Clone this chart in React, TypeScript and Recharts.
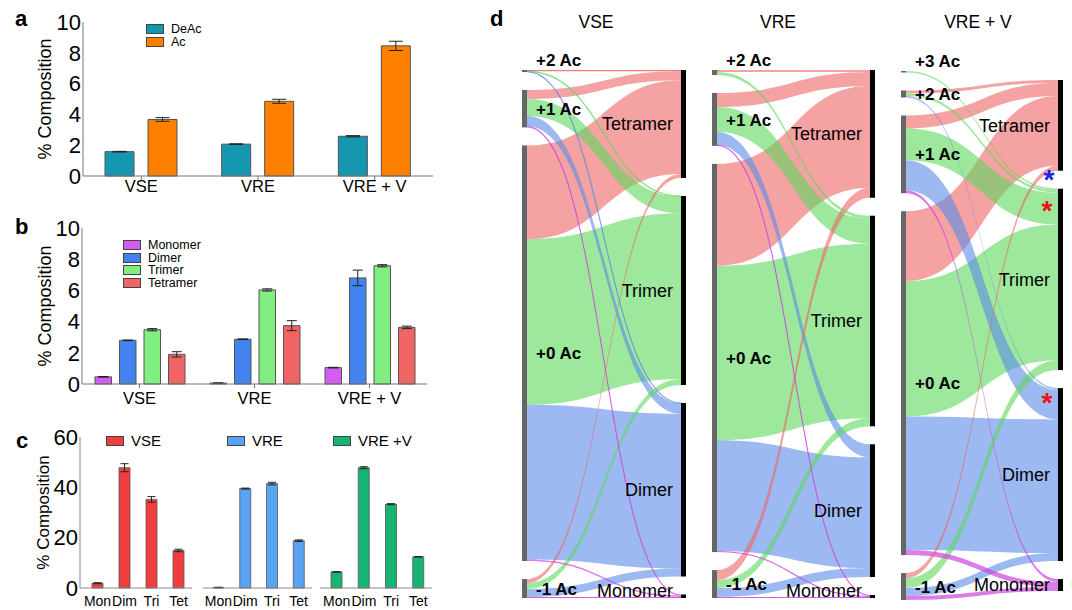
import React from 'react';
import { BarChart, Bar, XAxis, YAxis, ErrorBar, Legend, Label, Sankey } from 'recharts';

const FONT = '"Liberation Sans", Arial, Helvetica, sans-serif';

// panel a: acetylated vs deacetylated
const groups = ['VSE', 'VRE', 'VRE + V'];
const compTicks = [0, 2, 4, 6, 8, 10];
const acSeries = ['DeAc', 'Ac'];
const deacValues = [1.58, 2.07, 2.58];
const deacErrors = [0.02, 0.02, 0.04];
const acValues = [3.67, 4.85, 8.45];
const acErrors = [0.12, 0.13, 0.3];

// panel b: acetylated share by oligomer
const oligoSeries = ['Monomer', 'Dimer', 'Trimer', 'Tetramer'];
const monomerValues = [0.46, 0.06, 1.05];
const monomerErrors = [0.02, 0.01, 0.02];
const dimerValues = [2.8, 2.87, 6.8];
const dimerErrors = [0.02, 0.02, 0.5];
const trimerValues = [3.48, 6.03, 7.58];
const trimerErrors = [0.07, 0.07, 0.07];
const tetramerValues = [1.9, 3.74, 3.63];
const tetramerErrors = [0.17, 0.32, 0.08];

// panel c: oligomer composition
const oligoTicks = ['Mon', 'Dim', 'Tri', 'Tet'];
const shareTicks = [0, 20, 40, 60];
const vseShares = [1.9, 47.8, 35.2, 14.9];
const vseShareErrors = [0.2, 1.6, 1.1, 0.5];
const vreShares = [0.2, 39.5, 41.5, 18.8];
const vreShareErrors = [0.1, 0.2, 0.5, 0.3];
const vrevShares = [6.4, 47.8, 33.3, 12.4];
const vrevShareErrors = [0.1, 0.4, 0.2, 0.1];

// panel d: acetylation state -> oligomer flows
const acStates = ['+2 Ac', '+1 Ac', '+0 Ac', '-1 Ac'];
const acStatesV = ['+3 Ac', '+2 Ac', '+1 Ac', '+0 Ac', '-1 Ac'];
const oligomers = ['Tetramer', 'Trimer', 'Dimer', 'Monomer'];
// rows follow the Ac states, columns follow oligomers
const vseFlows = [
  [1.2, 0.4, 0.4, 0],
  [9, 17, 10.5, 1],
  [94, 166, 155, 1.5],
  [4, 6, 8, 1],
];
const vreFlows = [
  [2, 3, 0, 0],
  [14, 25, 13, 1],
  [102, 175, 111, 1],
  [10, 8, 9, 1],
];
const vrevFlows = [
  [0, 1.5, 0, 0],
  [3, 2.5, 1.5, 0],
  [13, 32, 30, 3],
  [70, 136, 134, 5],
  [5, 10, 8, 4],
];

const linkColors = ['#ee6464', '#5cd95c', '#5a8ae8', '#cc44dd'];

const sum = (a: number[]) => a.reduce((s, v) => s + v, 0);

// legend drawn from recharts' payload, kept in series order
const LegendList = ({ payload, order = [], fontSize = 12.5, row = 12.6 }: any) => {
  const items = [...(payload || [])].sort((a: any, b: any) => order.indexOf(a.value) - order.indexOf(b.value));
  return (
    <div>
      {items.map((p: any) => (
        <div key={p.value} style={{ display: 'flex', alignItems: 'center', height: row }}>
          <span style={{ display: 'block', width: 16, height: 8, background: p.payload?.fill ?? p.color, border: '1px solid #444' }} />
          <span style={{ display: 'block', marginLeft: 7, height: row, fontSize, lineHeight: `${row}px`, color: '#000', whiteSpace: 'nowrap' }}>{p.value}</span>
        </div>
      ))}
    </div>
  );
};

const yTick = { fill: '#000', fontSize: 22 };
const xTick = { fill: '#000', fontSize: 16.5 };
const yLabelStyle = { textAnchor: 'middle', fontSize: 18, fill: '#000' } as any;

function PanelA() {
  const data = groups.map((group, i) => ({ group, deac: deacValues[i], deacErr: deacErrors[i], ac: acValues[i], acErr: acErrors[i] }));
  return (
    <div style={{ position: 'absolute', left: 0, top: 0 }}>
      <BarChart width={440} height={200} data={data} margin={{ top: 22, right: 7, bottom: 0, left: 0 }} barSize={29} barGap={14}>
        <XAxis dataKey="group" height={24} interval={0} tickSize={4} tickMargin={0} stroke="#777" tick={xTick} />
        <YAxis width={83} domain={[0, 10]} ticks={compTicks} interval={0} tickLine={false} tickSize={0} tickMargin={2} stroke="#777" tick={yTick}>
          <Label value="% Composition" angle={-90} position="insideLeft" offset={45} style={yLabelStyle} />
        </YAxis>
        <Legend layout="vertical" align="center" verticalAlign="middle" wrapperStyle={{ left: 146, top: 23, width: 'auto', height: 'auto' }} content={<LegendList order={acSeries} />} />
        <Bar dataKey="deac" name={acSeries[0]} fill="#1597b0" stroke="#555" strokeWidth={1} isAnimationActive={false}>
          <ErrorBar dataKey="deacErr" width={7} stroke="#222" strokeWidth={1} />
        </Bar>
        <Bar dataKey="ac" name={acSeries[1]} fill="#ff8000" stroke="#555" strokeWidth={1} isAnimationActive={false}>
          <ErrorBar dataKey="acErr" width={7} stroke="#222" strokeWidth={1} />
        </Bar>
      </BarChart>
    </div>
  );
}

function PanelB() {
  const data = groups.map((group, i) => ({
    group,
    mon: monomerValues[i], monErr: monomerErrors[i],
    dim: dimerValues[i], dimErr: dimerErrors[i],
    tri: trimerValues[i], triErr: trimerErrors[i],
    tet: tetramerValues[i], tetErr: tetramerErrors[i],
  }));
  const keys = ['mon', 'dim', 'tri', 'tet'];
  const fills = ['#d45cf0', '#4283f0', '#80ee80', '#f06464'];
  return (
    <div style={{ position: 'absolute', left: 0, top: 200 }}>
      <BarChart width={432} height={208} data={data} margin={{ top: 28, right: 5, bottom: 0, left: 0 }} barSize={16.5} barGap={8}>
        <XAxis dataKey="group" height={24} interval={0} tickSize={4} tickMargin={4} stroke="#777" tick={xTick} />
        <YAxis width={82} domain={[0, 10]} ticks={compTicks} interval={0} tickLine={false} tickSize={0} tickMargin={2} stroke="#777" tick={yTick}>
          <Label value="% Composition" angle={-90} position="insideLeft" offset={45} style={yLabelStyle} />
        </YAxis>
        <Legend layout="vertical" align="center" verticalAlign="middle" wrapperStyle={{ left: 123, top: 39, width: 'auto', height: 'auto' }} content={<LegendList order={oligoSeries} />} />
        {keys.map((k, i) => (
          <Bar key={k} dataKey={k} name={oligoSeries[i]} fill={fills[i]} stroke="#555" strokeWidth={1} isAnimationActive={false}>
            <ErrorBar dataKey={`${k}Err`} width={5} stroke="#222" strokeWidth={1} />
          </Bar>
        ))}
      </BarChart>
    </div>
  );
}

function SharePanel({ name, values, errors, color, left, width, withAxis, padLeft, legendLeft }: any) {
  const data = oligoTicks.map((t, i) => ({ t, v: values[i], e: errors[i] }));
  return (
    <div style={{ position: 'absolute', left, top: 410 }}>
      <BarChart width={width} height={200} data={data} margin={{ top: 27, right: 0, bottom: 0, left: 0 }} barSize={11}>
        <XAxis dataKey="t" height={22} interval={0} tickLine={false} stroke="#888" tick={{ fill: '#000', fontSize: 14 }} padding={{ left: padLeft, right: 0 }} />
        {withAxis ? (
          <YAxis width={80} domain={[0, 60]} ticks={shareTicks} interval={0} tickLine={false} tickSize={0} tickMargin={2} stroke="#888" tick={yTick}>
            <Label value="% Composition" angle={-90} position="insideLeft" offset={43} style={{ ...yLabelStyle, fontSize: 17 }} />
          </YAxis>
        ) : (
          <YAxis hide domain={[0, 60]} ticks={shareTicks} />
        )}
        <Legend layout="vertical" align="center" verticalAlign="middle" wrapperStyle={{ left: legendLeft, top: 24, width: 'auto', height: 'auto' }} content={<LegendList fontSize={15} row={14} />} />
        <Bar dataKey="v" name={name} fill={color} stroke="#555" strokeWidth={0.8} isAnimationActive={false}>
          <ErrorBar dataKey="e" width={4} stroke="#222" strokeWidth={1} />
        </Bar>
      </BarChart>
    </div>
  );
}

function AcSankey({ sources, flows, left, top, width, height, stars }: any) {
  const pad = 18;
  const mTop = 30;
  const mBottom = 14;
  const nodes = [...sources, ...oligomers].map((name: string) => ({ name }));
  const links: any[] = [];
  flows.forEach((row: number[], i: number) =>
    row.forEach((value, j) => {
      if (value > 0) links.push({ source: i, target: sources.length + j, value, oligo: j });
    })
  );
  // thin flows drawn last so they stay visible on top of the wide bands
  links.sort((a, b) => b.value - a.value);
  const total = sum(flows.map((r: number[]) => sum(r)));
  const targetCount = oligomers.filter((_, j) => flows.some((r: number[]) => r[j] > 0)).length;
  const ky = Math.min((height - (sources.length - 1) * pad) / total, (height - (targetCount - 1) * pad) / total);
  // recharts stacks the shorter column from the top; centre it instead
  const offS = (height - total * ky - (sources.length - 1) * pad) / 2;
  const offT = (height - total * ky - (targetCount - 1) * pad) / 2;

  const renderLink = (p: any) => {
    const sy = p.sourceY + offS;
    const ty = p.targetY + offT;
    const idx = p.payload?.oligo ?? oligomers.indexOf(p.payload?.target?.name);
    const color = linkColors[idx];
    const op = idx === 3 ? 0.7 : 0.6;
    if (p.linkWidth < 1.4) {
      return (
        <path d={`M${p.sourceX},${sy} C${p.sourceControlX},${sy} ${p.targetControlX},${ty} ${p.targetX},${ty}`}
          fill="none" stroke={color} strokeOpacity={0.85} strokeWidth={1.1} />
      );
    }
    const h = p.linkWidth / 2;
    const d = `M${p.sourceX},${sy - h} C${p.sourceControlX},${sy - h} ${p.targetControlX},${ty - h} ${p.targetX},${ty - h}` +
      ` L${p.targetX},${ty + h} C${p.targetControlX},${ty + h} ${p.sourceControlX},${sy + h} ${p.sourceX},${sy + h} Z`;
    return <path d={d} fill={color} fillOpacity={op} stroke="none" />;
  };

  const renderNode = (p: any) => {
    const isLeft = p.x < width / 2;
    const y = p.y + (isLeft ? offS : offT);
    const name = p.payload?.name;
    const bottom = mTop + height - 7;
    const cy = Math.min(y + p.height / 2, bottom);
    const extra: any[] = [];
    if (stars && name === 'Trimer') {
      extra.push(<text key="s1" x={p.x - 9} y={y} fontSize={28} fontWeight="bold" fill="#2222dd" textAnchor="middle">*</text>);
      extra.push(<text key="s2" x={p.x - 11} y={y + 31} fontSize={28} fontWeight="bold" fill="#ee1111" textAnchor="middle">*</text>);
    }
    if (stars && name === 'Dimer') {
      extra.push(<text key="s3" x={p.x - 11} y={y + 24} fontSize={28} fontWeight="bold" fill="#ee1111" textAnchor="middle">*</text>);
    }
    return (
      <g>
        <rect x={p.x} y={y} width={p.width} height={Math.max(p.height, 1.5)} fill={isLeft ? '#666' : '#000'} />
        {isLeft ? (
          <text x={p.x + 14} y={p.height < 6 ? y - 10 : cy} dy="0.36em" fontSize={17} fontWeight="bold" fill="#000">{name}</text>
        ) : (
          <text x={p.x - 8} y={cy} dy="0.36em" fontSize={18} textAnchor="end" fill="#000">{name}</text>
        )}
        {extra}
      </g>
    );
  };

  return (
    <div style={{ position: 'absolute', left, top: top - mTop }}>
      <Sankey
        width={width}
        height={height + mTop + mBottom}
        data={{ nodes, links }}
        node={renderNode}
        link={renderLink}
        nodePadding={pad}
        nodeWidth={5}
        iterations={0}
        linkCurvature={0.5}
        margin={{ top: mTop, right: 0, bottom: mBottom, left: 0 }}
      />
    </div>
  );
}

const letter = (ch: string, left: number, top: number) => (
  <div style={{ position: 'absolute', left, top, fontSize: 22, fontWeight: 'bold', lineHeight: 1 }}>{ch}</div>
);

const title = (text: string, center: number) => (
  <div style={{ position: 'absolute', left: center - 60, width: 120, top: 13.5, textAlign: 'center', fontSize: 17.5, lineHeight: 1 }}>{text}</div>
);

export default function App() {
  return (
    <div style={{ position: 'absolute', left: 0, top: 0, width: 1072, height: 610, background: '#fff', fontFamily: FONT, color: '#000', overflow: 'hidden' }}>
      <PanelA />
      <PanelB />
      <SharePanel name="VSE" values={vseShares} errors={vseShareErrors} color="#f03e3e" left={0} width={192} withAxis padLeft={4} legendLeft={106} />
      <SharePanel name="VRE" values={vreShares} errors={vreShareErrors} color="#5aa2f2" left={203} width={109} padLeft={2} legendLeft={24} />
      <SharePanel name="VRE +V" values={vrevShares} errors={vrevShareErrors} color="#18b473" left={320} width={112} padLeft={3} legendLeft={13} />
      <AcSankey sources={acStates} flows={vseFlows} left={522} top={70} width={164} height={528} />
      <AcSankey sources={acStates} flows={vreFlows} left={712} top={70} width={163} height={528} />
      <AcSankey sources={acStatesV} flows={vrevFlows} left={901} top={71} width={162} height={529} stars />
      {letter('a', 15, 8)}
      {letter('b', 15, 216)}
      {letter('c', 16, 430)}
      {letter('d', 490, 8)}
      {title('VSE', 596)}
      {title('VRE', 778)}
      {title('VRE + V', 978)}
    </div>
  );
}
